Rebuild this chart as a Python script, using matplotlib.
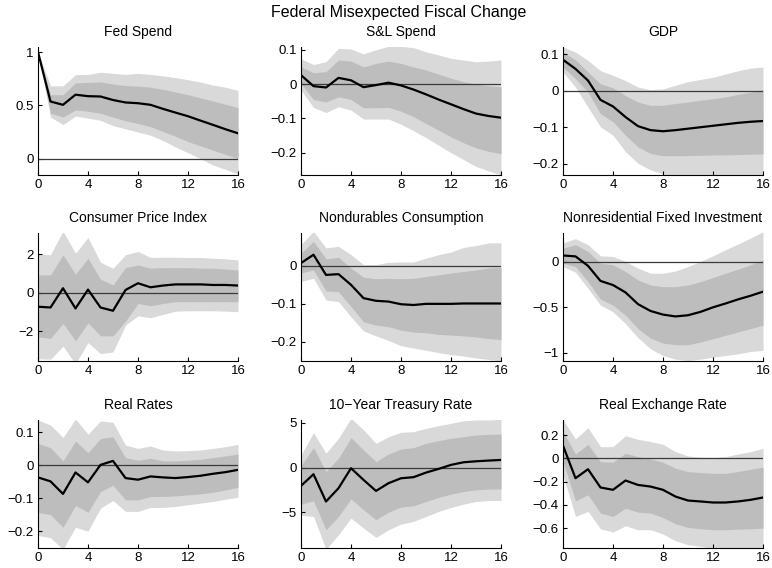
import numpy as np
import matplotlib
matplotlib.use('Agg')
import matplotlib.pyplot as plt
from matplotlib.ticker import FuncFormatter

plt.rcParams['font.family'] = ['Liberation Sans', 'DejaVu Sans']

horizon = list(range(17))
x_ticks = [0, 4, 8, 12, 16]
main_title = 'Federal Misexpected Fiscal Change'

# Fed Spend
fed_irf = [1.0, 0.536, 0.505, 0.60, 0.586, 0.583, 0.55, 0.527, 0.52, 0.505, 0.467, 0.432, 0.398, 0.357, 0.317, 0.276, 0.238]
fed_hi90 = [1.0, 0.683, 0.683, 0.787, 0.79, 0.81, 0.80, 0.79, 0.80, 0.79, 0.777, 0.76, 0.74, 0.718, 0.69, 0.67, 0.64]
fed_hi68 = [1.0, 0.60, 0.60, 0.71, 0.715, 0.72, 0.70, 0.685, 0.68, 0.67, 0.65, 0.625, 0.60, 0.57, 0.54, 0.51, 0.48]
fed_lo68 = [1.0, 0.426, 0.39, 0.457, 0.445, 0.426, 0.39, 0.355, 0.33, 0.30, 0.255, 0.21, 0.16, 0.12, 0.08, 0.04, 0.0]
fed_lo90 = [1.0, 0.39, 0.32, 0.40, 0.38, 0.36, 0.31, 0.28, 0.25, 0.22, 0.17, 0.11, 0.056, 0.0, -0.06, -0.10, -0.145]

# S&L Spend
sl_irf = [0.026, -0.006, -0.01, 0.018, 0.011, -0.009, -0.003, 0.004, -0.004, -0.016, -0.03, -0.045, -0.059, -0.073, -0.086, -0.093, -0.098]
sl_hi90 = [0.073, 0.057, 0.065, 0.104, 0.102, 0.088, 0.10, 0.11, 0.11, 0.106, 0.094, 0.085, 0.075, 0.07, 0.065, 0.067, 0.07]
sl_hi68 = [0.05, 0.033, 0.036, 0.07, 0.067, 0.05, 0.06, 0.067, 0.06, 0.05, 0.041, 0.029, 0.017, 0.007, 0.0, -0.005, -0.008]
sl_lo68 = [0.002, -0.045, -0.052, -0.037, -0.045, -0.069, -0.069, -0.068, -0.079, -0.095, -0.115, -0.134, -0.154, -0.171, -0.186, -0.196, -0.203]
sl_lo90 = [-0.018, -0.068, -0.083, -0.066, -0.076, -0.102, -0.102, -0.102, -0.117, -0.136, -0.156, -0.178, -0.20, -0.22, -0.24, -0.253, -0.265]

# GDP
gdp_irf = [0.085, 0.06, 0.028, -0.025, -0.043, -0.072, -0.097, -0.108, -0.111, -0.108, -0.104, -0.10, -0.096, -0.092, -0.088, -0.085, -0.083]
gdp_hi90 = [0.12, 0.106, 0.083, 0.055, 0.042, 0.028, 0.01, 0.003, 0.005, 0.015, 0.025, 0.031, 0.037, 0.046, 0.055, 0.062, 0.065]
gdp_hi68 = [0.106, 0.085, 0.051, 0.019, 0.008, -0.013, -0.031, -0.04, -0.04, -0.035, -0.031, -0.026, -0.022, -0.017, -0.01, -0.004, 0.003]
gdp_lo68 = [0.065, 0.033, -0.004, -0.063, -0.085, -0.122, -0.154, -0.172, -0.178, -0.178, -0.178, -0.177, -0.176, -0.176, -0.175, -0.174, -0.173]
gdp_lo90 = [0.051, 0.01, -0.045, -0.099, -0.122, -0.167, -0.199, -0.217, -0.228, -0.235, -0.235, -0.235, -0.235, -0.235, -0.235, -0.235, -0.235]

# Consumer Price Index
cpi_irf = [-0.73, -0.77, 0.23, -0.82, 0.16, -0.77, -0.94, 0.14, 0.49, 0.28, 0.37, 0.43, 0.43, 0.43, 0.40, 0.40, 0.37]
cpi_hi90 = [2.0, 1.97, 3.2, 2.05, 2.87, 1.58, 1.27, 1.97, 2.14, 1.83, 1.84, 1.84, 1.83, 1.83, 1.79, 1.76, 1.70]
cpi_hi68 = [0.92, 0.92, 1.97, 0.96, 1.79, 0.70, 0.40, 1.30, 1.44, 1.27, 1.30, 1.30, 1.30, 1.27, 1.27, 1.23, 1.18]
cpi_lo68 = [-2.3, -2.38, -1.6, -2.5, -1.57, -2.24, -2.24, -1.48, -0.56, -0.68, -0.56, -0.47, -0.47, -0.47, -0.47, -0.47, -0.47]
cpi_lo90 = [-3.43, -3.46, -2.78, -3.7, -2.59, -3.17, -3.08, -1.69, -1.2, -1.3, -1.13, -0.96, -0.94, -0.94, -0.94, -0.96, -0.99]

# Nondurables Consumption
nd_irf = [0.007, 0.029, -0.024, -0.022, -0.05, -0.085, -0.092, -0.094, -0.101, -0.103, -0.10, -0.10, -0.10, -0.099, -0.099, -0.099, -0.099]
nd_hi90 = [0.056, 0.09, 0.047, 0.051, 0.029, 0.003, 0.003, 0.009, 0.01, 0.01, 0.02, 0.029, 0.036, 0.048, 0.053, 0.06, 0.06]
nd_hi68 = [0.033, 0.064, 0.018, 0.022, -0.006, -0.03, -0.034, -0.033, -0.034, -0.033, -0.028, -0.024, -0.019, -0.015, -0.011, -0.006, -0.004]
nd_lo68 = [-0.019, -0.011, -0.066, -0.068, -0.107, -0.147, -0.156, -0.16, -0.169, -0.174, -0.176, -0.18, -0.182, -0.184, -0.187, -0.191, -0.194]
nd_lo90 = [-0.041, -0.033, -0.09, -0.094, -0.134, -0.171, -0.184, -0.196, -0.21, -0.216, -0.222, -0.228, -0.233, -0.237, -0.242, -0.246, -0.25]

# Nonresidential Fixed Investment
nri_irf = [0.07, 0.06, -0.044, -0.21, -0.255, -0.336, -0.465, -0.54, -0.58, -0.60, -0.587, -0.55, -0.50, -0.458, -0.413, -0.373, -0.328]
nri_hi90 = [0.207, 0.255, 0.188, 0.066, 0.059, 0.004, -0.07, -0.125, -0.125, -0.10, -0.052, 0.004, 0.066, 0.133, 0.196, 0.262, 0.33]
nri_hi68 = [0.15, 0.188, 0.114, -0.015, -0.033, -0.107, -0.20, -0.255, -0.273, -0.273, -0.255, -0.218, -0.173, -0.125, -0.081, -0.033, 0.022]
nri_lo68 = [-0.015, -0.052, -0.218, -0.41, -0.476, -0.587, -0.734, -0.838, -0.893, -0.911, -0.911, -0.882, -0.845, -0.808, -0.771, -0.734, -0.697]
nri_lo90 = [-0.052, -0.114, -0.292, -0.476, -0.55, -0.679, -0.834, -0.956, -1.03, -1.07, -1.085, -1.07, -1.048, -1.03, -1.011, -0.985, -0.974]

# Real Rates
rr_irf = [-0.037, -0.049, -0.087, -0.022, -0.052, 0.001, 0.013, -0.039, -0.044, -0.034, -0.037, -0.039, -0.036, -0.032, -0.026, -0.021, -0.014]
rr_hi90 = [0.137, 0.122, 0.084, 0.14, 0.094, 0.134, 0.13, 0.061, 0.051, 0.058, 0.046, 0.043, 0.044, 0.046, 0.051, 0.056, 0.063]
rr_hi68 = [0.066, 0.053, 0.013, 0.073, 0.038, 0.081, 0.086, 0.023, 0.015, 0.021, 0.013, 0.013, 0.015, 0.018, 0.023, 0.028, 0.034]
rr_lo68 = [-0.143, -0.15, -0.188, -0.122, -0.143, -0.08, -0.061, -0.105, -0.105, -0.095, -0.095, -0.093, -0.09, -0.087, -0.082, -0.075, -0.067]
rr_lo90 = [-0.213, -0.22, -0.255, -0.188, -0.20, -0.13, -0.107, -0.14, -0.14, -0.128, -0.128, -0.125, -0.12, -0.115, -0.11, -0.103, -0.097]

# 10-Year Treasury Rate
ty_irf = [-2.04, -0.74, -3.78, -2.3, -0.07, -1.37, -2.6, -1.74, -1.19, -1.07, -0.56, -0.15, 0.30, 0.59, 0.70, 0.78, 0.85]
ty_hi90 = [1.4, 3.9, 1.6, 3.26, 5.5, 4.2, 2.7, 3.44, 3.93, 4.0, 4.37, 4.67, 4.93, 5.2, 5.3, 5.3, 5.37]
ty_hi68 = [0.22, 2.22, -0.44, 1.04, 3.33, 1.96, 0.67, 1.52, 2.07, 2.22, 2.7, 3.0, 3.26, 3.44, 3.63, 3.7, 3.74]
ty_lo68 = [-4.07, -3.7, -6.93, -5.44, -3.48, -4.7, -5.81, -4.96, -4.4, -4.26, -3.78, -3.33, -2.96, -2.67, -2.48, -2.4, -2.37]
ty_lo90 = [-5.33, -5.44, -9.1, -7.48, -5.63, -6.74, -7.78, -6.93, -6.3, -6.0, -5.44, -4.89, -4.44, -4.07, -3.78, -3.67, -3.67]

# Real Exchange Rate
rer_irf = [0.109, -0.171, -0.094, -0.251, -0.271, -0.191, -0.229, -0.243, -0.271, -0.329, -0.363, -0.371, -0.38, -0.38, -0.371, -0.357, -0.337]
rer_hi90 = [0.33, 0.166, 0.263, 0.10, 0.10, 0.194, 0.163, 0.143, 0.12, 0.057, 0.02, 0.009, 0.006, 0.014, 0.037, 0.057, 0.086]
rer_hi68 = [0.229, 0.037, 0.12, -0.029, -0.034, 0.043, 0.014, -0.006, -0.034, -0.086, -0.114, -0.123, -0.129, -0.129, -0.114, -0.094, -0.077]
rer_lo68 = [-0.029, -0.366, -0.314, -0.471, -0.50, -0.429, -0.463, -0.471, -0.509, -0.563, -0.594, -0.606, -0.614, -0.614, -0.609, -0.606, -0.60]
rer_lo90 = [-0.143, -0.50, -0.457, -0.606, -0.634, -0.58, -0.614, -0.614, -0.651, -0.709, -0.743, -0.757, -0.775, -0.775, -0.775, -0.775, -0.775]

titles = ['Fed Spend', 'S&L Spend', 'GDP', 'Consumer Price Index', 'Nondurables Consumption',
          'Nonresidential Fixed Investment', 'Real Rates', '10\u2212Year Treasury Rate', 'Real Exchange Rate']
y_ticks = [[0, 0.5, 1], [-0.2, -0.1, 0, 0.1], [-0.2, -0.1, 0, 0.1], [-2, 0, 2], [-0.2, -0.1, 0],
           [-1, -0.5, 0], [-0.2, -0.1, 0, 0.1], [-5, 0, 5], [-0.6, -0.4, -0.2, 0, 0.2]]
y_limits = [(-0.153, 1.047), (-0.265, 0.108), (-0.231, 0.12), (-3.55, 3.1), (-0.25, 0.086),
            (-1.09, 0.317), (-0.251, 0.137), (-8.96, 5.3), (-0.771, 0.329)]
panels = [(fed_irf, fed_lo90, fed_lo68, fed_hi68, fed_hi90),
          (sl_irf, sl_lo90, sl_lo68, sl_hi68, sl_hi90),
          (gdp_irf, gdp_lo90, gdp_lo68, gdp_hi68, gdp_hi90),
          (cpi_irf, cpi_lo90, cpi_lo68, cpi_hi68, cpi_hi90),
          (nd_irf, nd_lo90, nd_lo68, nd_hi68, nd_hi90),
          (nri_irf, nri_lo90, nri_lo68, nri_hi68, nri_hi90),
          (rr_irf, rr_lo90, rr_lo68, rr_hi68, rr_hi90),
          (ty_irf, ty_lo90, ty_lo68, ty_hi68, ty_hi90),
          (rer_irf, rer_lo90, rer_lo68, rer_hi68, rer_hi90)]

W, H = 772, 568
fig = plt.figure(figsize=(W/100, H/100), dpi=100)
lefts = [38, 301, 563]
tops = [47, 233, 420]
aw, ah = 200, 128
fmt = FuncFormatter(lambda v, p: ('%g' % v).replace('-', '\u2212'))

for i, (irf, lo90, lo68, hi68, hi90) in enumerate(panels):
    r, c = divmod(i, 3)
    ax = fig.add_axes([lefts[c]/W, 1-(tops[r]+ah)/H, aw/W, ah/H])
    ax.fill_between(horizon, lo90, hi90, color='#d9d9d9', lw=0)
    ax.fill_between(horizon, lo68, hi68, color='#bdbdbd', lw=0)
    ax.axhline(0, color='#3a3a3a', lw=0.9)
    ax.plot(horizon, irf, color='black', lw=1.6)
    ax.set_xlim(0, 16); ax.set_ylim(*y_limits[i])
    ax.set_xticks(x_ticks); ax.set_yticks(y_ticks[i])
    ax.yaxis.set_major_formatter(fmt)
    ax.set_title(titles[i], fontsize=10, pad=8)
    for s in ['top', 'right']: ax.spines[s].set_visible(False)
    for s in ['left', 'bottom']: ax.spines[s].set_linewidth(0.8)
    ax.tick_params(direction='in', length=3, width=0.8, labelsize=9.5, pad=3)

fig.text(399/W, 1-12/H, main_title, ha='center', va='center', fontsize=11.5)
fig.savefig('out.png', dpi=100)
